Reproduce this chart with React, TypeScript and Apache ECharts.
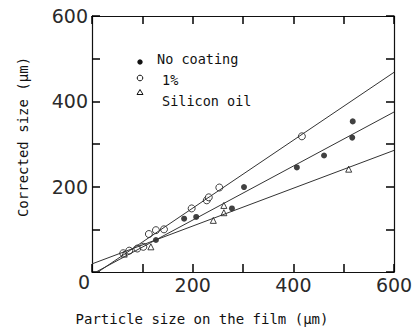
import React, { useEffect, useRef } from "react";
import * as echarts from "echarts";

// Particle size on the film (µm) vs corrected size (µm)
const noCoatingX = [127, 183, 207, 278, 302, 407, 461, 517, 518];
const noCoatingY = [75, 125, 129, 149, 199, 245, 273, 315, 353];
const onePctX = [62, 74, 90, 102, 113, 127, 143, 198, 228, 232, 253, 417];
const onePctY = [44, 50, 55, 59, 89, 98, 100, 149, 168, 175, 198, 318];
const siliconX = [64, 117, 241, 262, 262, 510];
const siliconY = [42, 59, 121, 139, 156, 241];

// fitted lines: [x0, y0, x1, y1]
const steepLine = [12, 0, 600, 468];
const middleLine = [8, 0, 600, 375];
const shallowLine = [0, 19, 600, 285];

const xTickLabels = [200, 400, 600];
const yTickLabels = [200, 400, 600];

const seriesNames = ["No coating", "1%", "Silicon oil"];
const xTitle = "Particle size on the film (μm)";
const yTitle = "Corrected size (μm)";

const zip = (xs: number[], ys: number[]) => xs.map((x, i) => [x, ys[i]]);
const seg = (l: number[]) => [
  [l[0], l[1]],
  [l[2], l[3]],
];

export default function App() {
  const ref = useRef<HTMLDivElement>(null);
  useEffect(() => {
    document.body.style.margin = "0";
    const chart = echarts.init(ref.current!, null, { renderer: "svg" });
    const ink = "#111111";
    const numInk = "#2a2a2a";
    const numFont = "DejaVu Sans";
    const monoFont = "DejaVu Sans Mono";
    const line = { show: true, onZero: false, lineStyle: { color: ink, width: 1.2 } };
    const tick = { show: true, inside: true, length: 8, lineStyle: { color: "#000", width: 1.5 } };
    chart.setOption({
      animation: false,
      grid: { left: 92, right: 26, top: 16, bottom: 64 },
      xAxis: [
        {
          type: "value",
          min: 0,
          max: 600,
          interval: 100,
          position: "bottom",
          axisLine: line,
          axisTick: tick,
          splitLine: { show: false },
          axisLabel: {
            formatter: (v: number) => (xTickLabels.includes(v) ? String(v) : ""),
            fontFamily: numFont,
            fontSize: 19,
            color: numInk,
            margin: 3,
          },
          name: xTitle,
          nameLocation: "middle",
          nameGap: 40,
          nameTextStyle: { fontFamily: monoFont, fontSize: 14, color: ink, padding: [0, 82, 0, 0] },
        },
        {
          type: "value",
          min: 0,
          max: 600,
          interval: 100,
          position: "top",
          axisLine: line,
          axisTick: tick,
          splitLine: { show: false },
          axisLabel: { show: false },
        },
      ],
      yAxis: [
        {
          type: "value",
          min: 0,
          max: 600,
          interval: 100,
          position: "left",
          axisLine: line,
          axisTick: tick,
          splitLine: { show: false },
          axisLabel: {
            formatter: (v: number) => (yTickLabels.includes(v) ? String(v) : ""),
            fontFamily: numFont,
            fontSize: 19,
            color: numInk,
            margin: 4,
          },
          name: yTitle,
          nameLocation: "middle",
          nameGap: 62,
          nameTextStyle: { fontFamily: monoFont, fontSize: 14, color: ink, padding: [0, 0, 0, 14] },
        },
        {
          type: "value",
          min: 0,
          max: 600,
          interval: 100,
          position: "right",
          axisLine: line,
          axisTick: tick,
          splitLine: { show: false },
          axisLabel: { show: false },
        },
      ],
      series: [
        { type: "line", data: seg(steepLine), symbol: "none", lineStyle: { color: "#333", width: 1 }, silent: true },
        { type: "line", data: seg(middleLine), symbol: "none", lineStyle: { color: "#333", width: 1 }, silent: true },
        { type: "line", data: seg(shallowLine), symbol: "none", lineStyle: { color: "#333", width: 1 }, silent: true },
        {
          name: seriesNames[0],
          type: "scatter",
          data: zip(noCoatingX, noCoatingY),
          symbol: "circle",
          symbolSize: 6,
          itemStyle: { color: ink },
        },
        {
          name: seriesNames[1],
          type: "scatter",
          data: zip(onePctX, onePctY),
          symbol: "circle",
          symbolSize: 7,
          itemStyle: { color: "#ffffff", borderColor: ink, borderWidth: 1 },
        },
        {
          name: seriesNames[2],
          type: "scatter",
          data: zip(siliconX, siliconY),
          symbol: "triangle",
          symbolSize: 6,
          itemStyle: { color: "#ffffff", borderColor: ink, borderWidth: 1 },
        },
      ],
      graphic: [
        {
          type: "text",
          x: 84,
          y: 282,
          style: { text: "0", font: `19px "${numFont}"`, fill: numInk, align: "center", verticalAlign: "middle" },
        },
        { type: "circle", shape: { cx: 140, cy: 62, r: 2.7 }, style: { fill: ink } },
        { type: "circle", shape: { cx: 140, cy: 78, r: 2.8 }, style: { fill: "#fff", stroke: ink, lineWidth: 1 } },
        {
          type: "polygon",
          shape: { points: [[140, 89.5], [137, 94.5], [143, 94.5]] },
          style: { fill: "#fff", stroke: ink, lineWidth: 1 },
        },
        { type: "text", x: 157, y: 59, style: { text: seriesNames[0], font: `13.5px "${monoFont}"`, fill: ink, verticalAlign: "middle" } },
        { type: "text", x: 162, y: 80, style: { text: seriesNames[1], font: `13.5px "${monoFont}"`, fill: ink, verticalAlign: "middle" } },
        { type: "text", x: 162, y: 101, style: { text: seriesNames[2], font: `13.5px "${monoFont}"`, fill: ink, verticalAlign: "middle" } },
      ],
    });
    return () => chart.dispose();
  }, []);
  return <div ref={ref} style={{ width: 420, height: 336 }} />;
}
